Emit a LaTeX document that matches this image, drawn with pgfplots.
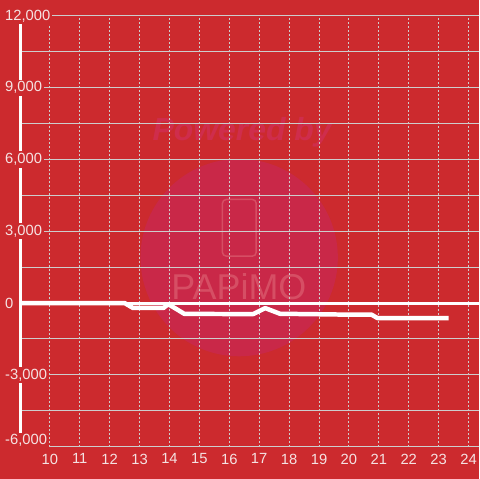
\documentclass[border=0pt]{standalone}
\usepackage{pgfplots}
\pgfplotsset{compat=1.18}
\usepackage{fontspec}
\setmainfont{Liberation Sans}
\definecolor{bg}{RGB}{204,42,46}
\definecolor{wm}{RGB}{201,40,72}
\definecolor{wmtext}{RGB}{214,78,100}
\definecolor{pwr}{RGB}{207,45,76}
\definecolor{gridc}{RGB}{205,205,205}
\definecolor{lbl}{RGB}{245,226,226}

\begin{document}
\begin{tikzpicture}
\begin{axis}[
    set layers,
    scale only axis,
    width=459pt, height=432pt,
    xmin=9.0333, xmax=24.3333,
    ymin=-6000, ymax=12000,
    clip=false,
    scaled y ticks=false,
    axis y line*=left, axis x line*=bottom,
    x axis line style={draw=none},
    y axis line style={white, line width=3pt},
    xtick={10,...,24},
    ytick={-3000,0,...,12000},
    minor ytick={-4500,-1500,...,10500},
    extra y ticks={-6000},
    extra y tick style={yticklabel style={yshift=6pt}},
    major tick length=0pt, minor tick length=0pt,
    xmajorgrids, ymajorgrids, yminorgrids,
    major x grid style={gridc, line width=1pt, dash pattern=on 2pt off 2pt},
    major y grid style={gridc, line width=1pt},
    minor y grid style={gridc, line width=1pt},
    yticklabel style={font=\fontsize{14.8}{16}\selectfont, text=lbl, fill=bg,
        inner sep=2pt, anchor=west, xshift=-18pt},
    xticklabel style={font=\fontsize{14.8}{16}\selectfont, text=lbl,
        inner sep=0pt, anchor=north, yshift=-7pt},
    /pgf/number format/.cd, 1000 sep={,}, assume math mode=true,
]
\begin{pgfonlayer}{axis background}
  \fill[bg] ([shift={(-21pt,-32pt)}]rel axis cs:0,0) rectangle ([shift={(0pt,16pt)}]rel axis cs:1,1);
  \fill[wm] (axis cs:16.33,1900) circle[radius=99pt];
  \node[text=pwr, font=\fontsize{32}{32}\selectfont\bfseries\itshape] at (axis cs:16.43,7125) {Powered by};
  \draw[wmtext, line width=1.5pt, rounded corners=4pt] (axis cs:15.77,1958) rectangle (axis cs:16.9,4333);
  \node[text=wmtext, font=\fontsize{36}{36}\selectfont] at (axis cs:16.32,667) {PAPiMO};
\end{pgfonlayer}
\draw[white, line width=3pt] (axis cs:9.0333,0) -- (axis cs:24.3333,0);
\addplot[white, line width=4.5pt, line join=round] coordinates {
  (9.0333,0) (12.5,0) (12.78,-205) (13.8,-205) (13.95,-50) (14.1,-150)
  (14.5,-455) (16.8,-460) (17.2,-210) (17.7,-450) (18.5,-460)
  (19.7,-480) (20.75,-480) (20.95,-625) (23.33,-625)
};
\end{axis}
\end{tikzpicture}
\end{document}
